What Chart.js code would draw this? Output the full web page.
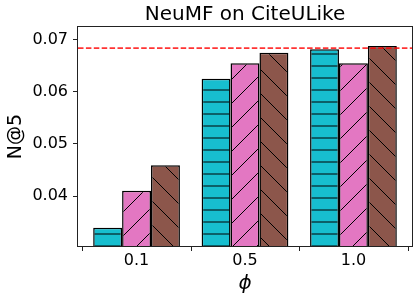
<!DOCTYPE html>
<html>
<head>
<meta charset="utf-8">
<script src="https://cdn.jsdelivr.net/npm/chart.js@4.4.0/dist/chart.umd.min.js"></script>
<style>
  html, body { margin: 0; padding: 0; background: #fff; }
</style>
</head>
<body>
<canvas id="chart" width="418" height="301"></canvas>
<script>
// values
const categories = ['0.1', '0.5', '1.0'];
const seriesCyan = [0.0339, 0.0625, 0.0682];
const seriesPink = [0.0410, 0.0655, 0.0655];
const seriesBrown = [0.0459, 0.0675, 0.0688];
const refValue = 0.0684;
const yTicks = [0.04, 0.05, 0.06, 0.07];

Chart.defaults.font.family = 'DejaVu Sans';
Chart.defaults.color = '#000';

// hatch fills, anchored to the canvas origin like matplotlib's
function makeHatch(kind, bg) {
  const c = document.createElement('canvas');
  const s = kind === '-' ? 12 : 24;
  c.width = s; c.height = s;
  const g = c.getContext('2d');
  g.fillStyle = bg;
  g.fillRect(0, 0, s, s);
  if (kind === '-') {
    g.fillStyle = '#0c5f68';
    g.fillRect(0, 5, s, 2);
  } else {
    g.strokeStyle = '#000';
    g.lineWidth = 1;
    for (const k of [-25, -1, 23, 47]) {
      g.beginPath();
      if (kind === '/') { g.moveTo(k + 2, -2); g.lineTo(-2, k + 2); }
      else { g.moveTo(-2, -2 - k); g.lineTo(s + 2, s + 2 - k); }
      g.stroke();
    }
  }
  return g.createPattern(c, 'repeat');
}

const toPoints = arr => arr.map((v, i) => ({x: i, y: v}));

// dashed reference line, axes box and the x tick marks between groups
const overlay = {
  id: 'overlay',
  afterDatasetsDraw(chart) {
    const {ctx, chartArea: a} = chart;
    const x = chart.scales.x;
    const py = chart.scales.y.getPixelForValue(refValue);
    ctx.save();
    ctx.strokeStyle = 'rgba(255,0,0,0.8)';
    ctx.lineWidth = 1.8;
    ctx.setLineDash([5.5, 2.4]);
    ctx.beginPath();
    ctx.moveTo(a.left, py);
    ctx.lineTo(a.right, py);
    ctx.stroke();
    ctx.setLineDash([]);
    ctx.strokeStyle = '#222';
    ctx.lineWidth = 1;
    ctx.strokeRect(a.left - 0.5, a.top - 0.5, a.right - a.left + 1, a.bottom - a.top + 1);
    ctx.beginPath();
    for (let i = 0; i <= categories.length; i++) {
      const px = Math.round(x.getPixelForValue(i - 0.5)) + 0.5;
      ctx.moveTo(px, a.bottom);
      ctx.lineTo(px, a.bottom + 5);
    }
    ctx.stroke();
    ctx.restore();
  }
};

const barStyle = {borderColor: '#000', borderWidth: 1.5, borderSkipped: false,
                  barPercentage: 1.0, categoryPercentage: 0.8};

new Chart(document.getElementById('chart'), {
  type: 'bar',
  data: {
    datasets: [
      Object.assign({data: toPoints(seriesCyan), backgroundColor: makeHatch('-', '#17becf')}, barStyle),
      Object.assign({data: toPoints(seriesPink), backgroundColor: makeHatch('/', '#e377c2')}, barStyle),
      Object.assign({data: toPoints(seriesBrown), backgroundColor: makeHatch('\\', '#8c564b')}, barStyle)
    ]
  },
  options: {
    responsive: false,
    animation: false,
    layout: {padding: {right: 6}},
    plugins: {
      legend: {display: false},
      tooltip: {enabled: false},
      title: {
        display: true, text: 'NeuMF on CiteULike', fullSize: false, color: '#000',
        font: {size: 20, weight: 'normal'}, padding: {top: 3, bottom: 0}
      }
    },
    scales: {
      x: {
        type: 'linear', min: -0.54, max: 2.54, offset: false,
        afterBuildTicks: s => { s.ticks = categories.map((c, i) => ({value: i})); },
        afterFit: s => { s.height = 55; },
        ticks: {
          autoSkip: false, maxRotation: 0, padding: 0, color: '#000', font: {size: 16},
          callback: v => categories[v]
        },
        grid: {drawOnChartArea: false, offset: false, tickLength: 5, tickColor: 'rgba(0,0,0,0)'},
        border: {display: false},
        title: {display: true, text: 'ϕ', color: '#000',
                font: {size: 20, style: 'italic'}, padding: {top: 0, bottom: 5}}
      },
      y: {
        min: 0.0304, max: 0.07245,
        afterBuildTicks: s => { s.ticks = yTicks.map(v => ({value: v})); },
        afterFit: s => { s.width = 78; },
        ticks: {padding: 5, color: '#000', font: {size: 16}, callback: v => v.toFixed(2)},
        grid: {drawOnChartArea: false, tickLength: 5, tickColor: '#222'},
        border: {display: false},
        title: {display: true, text: 'N@5', color: '#000',
                font: {size: 19}, padding: {top: 5, bottom: 0}}
      }
    }
  },
  plugins: [overlay]
});
</script>
</body>
</html>
